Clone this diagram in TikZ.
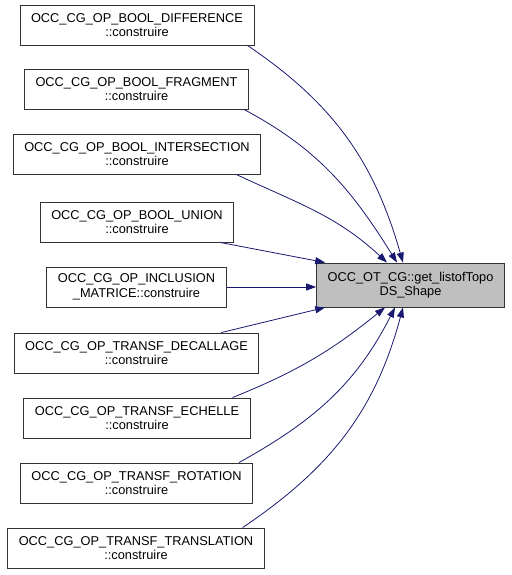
\documentclass[tikz,border=0pt]{standalone}
\usepackage{fontspec}
\setmainfont{Liberation Sans}
\usetikzlibrary{arrows.meta}
\definecolor{edgeblue}{HTML}{191970}
\definecolor{boxgray}{HTML}{BFBFBF}
\begin{document}
\begin{tikzpicture}[x=1pt, y=1pt,
    fnbox/.style={draw=black!80, line width=0.9pt, fill=white, align=center,
      inner xsep=11pt, inner ysep=2pt, minimum height=40pt,
      font=\fontsize{12.8}{14.5}\selectfont},
    callee/.style={fnbox, fill=boxgray, minimum height=44pt},
    call/.style={draw=edgeblue, line width=0.8pt,
      -{Triangle[length=10pt, width=7pt]}}]
  \useasboundingbox (0,0) rectangle (511,575);

  % Callers, top to bottom
  \node[fnbox] (diff)  at (137,550)   {OCC\_CG\_OP\_BOOL\_DIFFERENCE\\::construire};
  \node[fnbox] (frag)  at (136.5,486) {OCC\_CG\_OP\_BOOL\_FRAGMENT\\::construire};
  \node[fnbox] (inter) at (137,421)   {OCC\_CG\_OP\_BOOL\_INTERSECTION\\::construire};
  \node[fnbox] (union) at (137,353)   {OCC\_CG\_OP\_BOOL\_UNION\\::construire};
  \node[fnbox] (incl)  at (136.5,288) {OCC\_CG\_OP\_INCLUSION\\\_MATRICE::construire};
  \node[fnbox] (decal) at (136.5,222) {OCC\_CG\_OP\_TRANSF\_DECALLAGE\\::construire};
  \node[fnbox] (echel) at (137,157)   {OCC\_CG\_OP\_TRANSF\_ECHELLE\\::construire};
  \node[fnbox] (rota)  at (136.5,92)  {OCC\_CG\_OP\_TRANSF\_ROTATION\\::construire};
  \node[fnbox] (trans) at (136,27)    {OCC\_CG\_OP\_TRANSF\_TRANSLATION\\::construire};

  % Called function
  \node[callee] (topo) at (410.5,290) {OCC\_OT\_CG::get\_listofTopo\\DS\_Shape};

  % Calls from above
  \draw[call] ([xshift=-7pt]diff.south east)  to[out=-34, in=106] ([xshift=-7.5pt]topo.north);
  \draw[call] ([xshift=-5pt]frag.south east)  to[out=-28, in=122] ([xshift=-13.5pt]topo.north);
  \draw[call] ([xshift=-25pt]inter.south east) to[out=-25, in=137] ([xshift=-23.5pt]topo.north);
  \draw[call] ([xshift=-14pt]union.south east) -- ([xshift=9pt]topo.north west);

  % Straight across
  \draw[call] (incl.east) -- (incl.east -| topo.west);

  % Calls from below
  \draw[call] ([xshift=-38pt]decal.north east) -- ([xshift=9pt]topo.south west);
  \draw[call] ([xshift=-18pt]echel.north east) to[out=22, in=-141] ([xshift=-25.5pt]topo.south);
  \draw[call] ([xshift=-14pt]rota.north east)  to[out=29, in=-117] ([xshift=-15.5pt]topo.south);
  \draw[call] ([xshift=-22pt]trans.north east) to[out=34, in=-105] ([xshift=-7.5pt]topo.south);
\end{tikzpicture}
\end{document}
